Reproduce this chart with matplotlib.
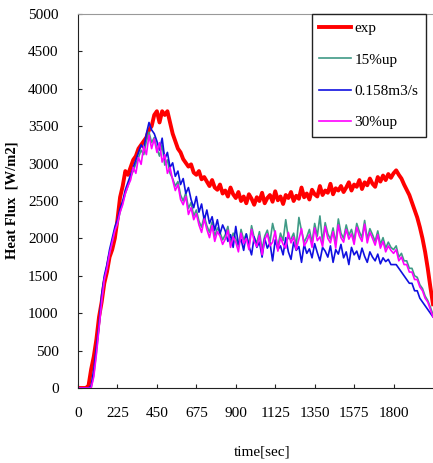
"""Heat flux vs time: experiment against three simulation cases."""

import matplotlib

matplotlib.use("Agg")
import matplotlib.pyplot as plt
import numpy as np

# sampling grid, seconds (one reading every 15 s)
time_s = np.arange(0, 2026, 15)

exp_flux = [
    0, 0, 0, 0, 30, 250, 420, 650, 950, 1150, 1400, 1550, 1750, 1850, 2000, 2250,
    2550, 2700, 2900, 2850, 2950, 3050, 3100, 3200, 3250, 3300, 3350, 3450, 3500, 3650,
    3700, 3550, 3700, 3650, 3700, 3550, 3400, 3300, 3200, 3150,
    3060, 3010, 2960, 2990, 2880, 2850, 2900, 2790, 2820, 2760, 2700, 2780, 2680, 2650,
    2720, 2600, 2640, 2560, 2680, 2590,
    2540, 2620, 2500, 2560, 2470, 2590, 2530, 2450, 2550, 2500, 2610, 2470, 2540, 2580,
    2490, 2630, 2510, 2560, 2460, 2580,
    2540, 2620, 2500, 2570, 2530, 2680, 2550, 2600, 2520, 2650, 2590, 2560, 2700, 2580,
    2640, 2610, 2730, 2590, 2670, 2640,
    2700, 2620, 2680, 2750, 2640, 2720, 2690, 2780, 2660, 2750, 2710, 2800, 2730, 2690,
    2820, 2760, 2840, 2780, 2860, 2810,
    2870, 2910, 2850, 2800, 2720, 2650, 2580, 2480, 2380, 2280, 2150, 2000, 1820, 1600,
    1350, 1120,
]

up15_flux = [
    0, 0, 0, 0, 0, 0, 180, 480, 820, 1180, 1450, 1620, 1800, 1950, 2120, 2200,
    2350, 2480, 2600, 2700, 2820, 2900, 3000, 3080, 3180, 3120, 3300, 3420, 3280, 3350,
    3200, 3100, 3250, 2980, 3050, 2870, 2800, 2700, 2760, 2580, 2500, 2610, 2400, 2480,
    2300, 2380, 2230, 2150, 2300, 2170, 2080, 2220, 2030, 2140, 2080, 1980,
    2050, 2160, 1930, 2070, 2000, 1890, 2120, 1980, 2060, 1900, 2170, 2010, 1940, 2090,
    1850, 2030,
    2110, 1950, 2200, 2050, 1890, 2070, 1970, 2250, 2000, 1990, 2070, 1900, 2280, 2100,
    1950, 2020,
    2120, 1940, 2200, 2030, 2300, 1950, 2210, 2060, 1990, 2140, 1930, 2260, 2070, 2000,
    2180, 2040,
    2120, 1980, 2200, 2090, 2010, 2240, 1990, 2130, 2050, 1960, 2100, 1920, 2010, 1870,
    1950, 1880,
    1850, 1900, 1750, 1800, 1700, 1700, 1600, 1600, 1500, 1480, 1380, 1330, 1230, 1170,
    1080, 980,
]

base_flux = [
    0, 0, 0, 0, 0, 30, 250, 550, 850, 1250, 1500, 1650, 1850, 2000, 2150, 2250,
    2400, 2500, 2650, 2750, 2850, 2950, 3050, 3150, 3250, 3200, 3400, 3550, 3450, 3400,
    3300, 3180, 3340, 3060, 3150, 2950, 3010, 2830, 2900, 2720, 2800, 2600, 2680, 2520,
    2410, 2560, 2350, 2460, 2240, 2380, 2200, 2290, 2110, 2250, 2060, 2180,
    2100, 1960, 2050, 1880, 2160, 1920, 1990, 1840, 2060, 1900, 1780, 2020, 1880, 1950,
    1750, 2000,
    1870, 1940, 1700, 1980, 1850, 1900, 1780, 2010, 1820, 1720, 1950, 1840, 1890, 1680,
    1920, 1800,
    1860, 1740, 1930, 1810, 1700, 1880, 1830, 1750, 1900, 1680, 1850, 1790, 1920, 1740,
    1820, 1650,
    1880, 1780, 1830, 1720, 1870, 1760, 1680, 1820, 1750, 1700, 1790, 1660, 1740, 1690,
    1720, 1650,
    1650, 1650, 1600, 1550, 1500, 1450, 1400, 1400, 1300, 1300, 1200, 1150, 1100, 1050,
    1000, 950,
]

up30_flux = [
    0, 0, 0, 0, 0, 0, 150, 450, 800, 1150, 1450, 1600, 1800, 1950, 2100, 2200,
    2350, 2450, 2600, 2700, 2780, 2950, 2870, 3080, 2990, 3230, 3120, 3380, 3200, 3330,
    3150, 3280, 3020, 3120, 2870, 2950, 2780, 2640, 2720, 2520, 2450, 2560, 2320, 2410,
    2250, 2330, 2180, 2080, 2260, 2120, 2010, 2170, 1960, 2090, 2030, 1920,
    1990, 2110, 1880, 2020, 1950, 1820, 2070, 1930, 2000, 1850, 2120, 1960, 1890, 2040,
    1780, 1980,
    2060, 1900, 1950, 2100, 1830, 2010, 1920, 1870, 2080, 1940, 2020, 1850, 1990, 2130,
    1900, 1960,
    2050, 1880, 2140, 1970, 2020, 1890, 2160, 2000, 1940, 2090, 1870, 2180, 2010, 1950,
    2120, 1990,
    2060, 1920, 2150, 2030, 1960, 2190, 1940, 2080, 2000, 1910, 2050, 1870, 1960, 1820,
    1900, 1840,
    1800, 1850, 1700, 1750, 1650, 1650, 1550, 1550, 1450, 1450, 1350, 1300, 1200, 1150,
    1050, 950,
]

series_labels = ["exp", "15%up", "0.158m3/s", "30%up"]
series_colors = ["#ff0000", "#3f9a86", "#1010e0", "#ff00ff"]
x_ticks = [0, 225, 450, 675, 900, 1125, 1350, 1575, 1800]
y_ticks = list(range(0, 5001, 500))

plt.rcParams["font.family"] = ["Liberation Serif", "DejaVu Serif"]

fig = plt.figure(figsize=(4.33, 4.63), dpi=100)
ax = fig.add_axes([78 / 433, 1 - 388 / 463, 1 - 78 / 433, (388 - 14) / 463])

all_series = [exp_flux, up15_flux, base_flux, up30_flux]
widths = [2.8, 1.2, 1.2, 1.2]
for vals, lab, col, lw in zip(all_series, series_labels, series_colors, widths):
    ax.plot(time_s, vals, color=col, lw=lw, label=lab)

ax.set_xlim(0, 2025)
ax.set_ylim(0, 5000)
ax.set_xticks(x_ticks)
ax.set_yticks(y_ticks)
ax.tick_params(direction="in", length=3, width=0.8, labelsize=11, color="#222")
ax.tick_params(axis="y", pad=14)
ax.tick_params(axis="x", pad=14)

ax.spines["top"].set_color("#999999")
ax.spines["right"].set_visible(False)
for side in ("left", "bottom"):
    ax.spines[side].set_color("#222222")

fig.text(12 / 433, 1 - 200 / 463, "Heat Flux  [W/m2]", rotation=90,
         ha="center", va="center", fontsize=10.5, fontweight="bold")
fig.text(262 / 433, 1 - 452 / 463, "time[sec]", ha="center", va="center",
         fontsize=11)

leg = ax.legend(loc="upper right", bbox_to_anchor=(426 / 433, 1 - 14 / 463),
                bbox_transform=fig.transFigure, fancybox=False, framealpha=1,
                edgecolor="#222222", fontsize=11, handlelength=2.1,
                handletextpad=0.2, labelspacing=1.15, borderpad=0.5,
                borderaxespad=0)
leg.get_frame().set_linewidth(1.0)

fig.savefig("out.png", dpi=100)
